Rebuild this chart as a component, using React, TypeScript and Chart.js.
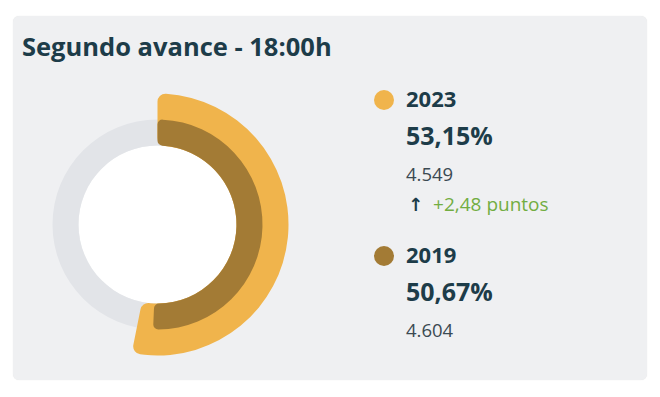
import React, { useEffect, useRef } from "react";
import { Chart, registerables } from "chart.js";

Chart.register(...registerables);

const title = "Segundo avance - 18:00h";
const years = ["2023", "2019"];
const participation = [53.15, 50.67];
const voters = [4549, 4604];
const seriesColors = ["#f0b44c", "#a37b35"];
const trackColor = "#e2e4e8";
const diffLabel = "puntos";

const fmtPct = (v: number) => v.toFixed(2).replace(".", ",") + "%";
const fmtInt = (v: number) => String(v).replace(/\B(?=(\d{3})+(?!\d))/g, ".");
const fmtDiff = (v: number) => (v >= 0 ? "+" : "") + v.toFixed(2).replace(".", ",");

const SIZE = 281;
const CX = 157.5;
const CY = 224.5;
const HOLE = 79;
const INNER_R = 105;
const OUTER_R = 131;

const baseOpts: any = {
  responsive: false,
  animation: false,
  events: [],
  layout: { padding: 0 },
  plugins: { legend: { display: false }, tooltip: { enabled: false }, title: { display: false } },
};

function Ring({ config }: { config: any }) {
  const ref = useRef<HTMLCanvasElement>(null);
  useEffect(() => {
    const chart = new Chart(ref.current!, config);
    return () => chart.destroy();
  }, []);
  return (
    <canvas
      ref={ref}
      width={SIZE}
      height={SIZE}
      style={{ position: "absolute", left: CX - SIZE / 2, top: CY - SIZE / 2, width: SIZE, height: SIZE }}
    />
  );
}

const trackConfig = {
  type: "doughnut",
  data: {
    labels: ["track"],
    datasets: [
      { data: [1], backgroundColor: [trackColor], borderWidth: 0, weight: INNER_R - HOLE },
      { data: [1], backgroundColor: ["#ffffff"], borderWidth: 0, weight: HOLE },
    ],
  },
  options: { ...baseOpts, radius: INNER_R, cutout: 0 },
};

const outerConfig = {
  type: "doughnut",
  data: {
    labels: [years[0], ""],
    datasets: [
      {
        data: [participation[0], 100 - participation[0]],
        backgroundColor: [seriesColors[0], "rgba(0,0,0,0)"],
        borderWidth: 0,
        borderRadius: 8,
      },
    ],
  },
  options: { ...baseOpts, radius: OUTER_R, cutout: (HOLE / OUTER_R) * 100 + "%" },
};

const innerConfig = {
  type: "doughnut",
  data: {
    labels: [years[1], ""],
    datasets: [
      {
        data: [participation[1], 100 - participation[1]],
        backgroundColor: [seriesColors[1], "rgba(0,0,0,0)"],
        borderWidth: 0,
        borderRadius: 5,
      },
    ],
  },
  options: { ...baseOpts, radius: INNER_R, cutout: (HOLE / INNER_R) * 100 + "%" },
};

const font = "'Open Sans', 'Noto Sans', sans-serif";
const dark = "#1d3c49";

function LegendBlock({ i, top }: { i: number; top: number }) {
  return (
    <div style={{ position: "absolute", left: 374, top, fontFamily: font }}>
      <div
        style={{
          position: "absolute",
          left: 0,
          top: 2,
          width: 20,
          height: 20,
          borderRadius: "50%",
          background: seriesColors[i],
        }}
      />
      <div style={{ position: "absolute", left: 32, top: -5, fontSize: 22, fontWeight: 700, color: dark, whiteSpace: "nowrap" }}>
        {years[i]}
      </div>
      <div style={{ position: "absolute", left: 32, top: 30, fontSize: 25, fontWeight: 700, color: dark, whiteSpace: "nowrap" }}>
        {fmtPct(participation[i])}
      </div>
      <div style={{ position: "absolute", left: 32, top: 73, fontSize: 18.5, color: "#3b4a52", whiteSpace: "nowrap" }}>
        {fmtInt(voters[i])}
      </div>
    </div>
  );
}

export default function App() {
  useEffect(() => {
    document.body.style.margin = "0";
  }, []);
  const diff = participation[0] - participation[1];
  return (
    <div style={{ position: "relative", width: 660, height: 397, background: "#ffffff", overflow: "hidden" }}>
      <div
        style={{
          position: "absolute",
          left: 13,
          top: 16,
          width: 634,
          height: 364,
          background: "#eff0f2",
          borderRadius: 6,
          boxShadow: "0 0 1px rgba(0,0,0,0.12)",
        }}
      />
      <div
        style={{
          position: "absolute",
          left: 22,
          top: 29,
          fontFamily: font,
          fontSize: 25.5,
          fontWeight: 700,
          color: dark,
          whiteSpace: "nowrap",
        }}
      >
        {title}
      </div>
      <Ring config={trackConfig} />
      <Ring config={outerConfig} />
      <Ring config={innerConfig} />
      <LegendBlock i={0} top={88} />
      <LegendBlock i={1} top={244} />
      <div
        style={{
          position: "absolute",
          left: 408,
          top: 191,
          lineHeight: "26px",
          fontFamily: font,
          fontSize: 19,
          color: "#72ad42",
          whiteSpace: "nowrap",
        }}
      >
        <span style={{ color: dark, fontFamily: "'DejaVu Sans', sans-serif", fontWeight: 700, fontSize: 18, marginRight: 10 }}>↑</span>
        {fmtDiff(diff)} {diffLabel}
      </div>
    </div>
  );
}
